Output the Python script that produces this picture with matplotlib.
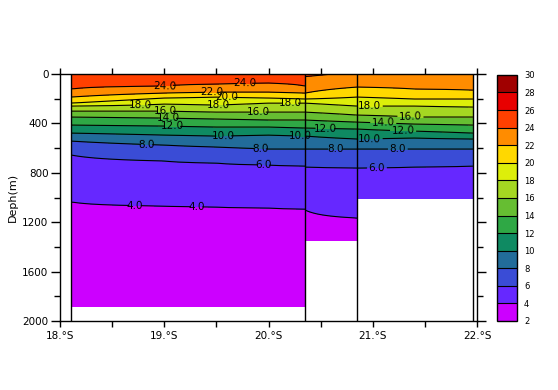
import numpy as np
import matplotlib
matplotlib.use("Agg")
import matplotlib.pyplot as plt
from matplotlib.colors import ListedColormap, BoundaryNorm
from matplotlib.cm import ScalarMappable
from matplotlib.ticker import MultipleLocator

# colour levels (deg C) and fill colours
levels = np.arange(2, 32, 2)
fill_colors = ["#cc00ff", "#6628ff", "#3a4cd6", "#226c9a", "#0f8a62", "#2fa845",
               "#66be32", "#a5d722", "#ddee0a", "#ffd800", "#ff8c00", "#ff4000",
               "#e80000", "#a00000"]

# isotherms (depth in m of each isotherm at each station)
iso_temps = [24, 22, 20, 18, 16, 14, 12, 10, 8, 6, 4]

# segment 1: 18.1S - 20.35S, bottom 1884 m
lat_seg1 = [18.11, 19.0, 19.5, 20.0, 20.35]
surf_seg1 = [25.0, 25.0, 25.0, 25.0, 25.0]
iso_seg1 = [
    [121, 186, 235, 259, 300, 348, 413, 478, 543, 656, 1036],
    [97, 154, 194, 243, 300, 356, 421, 494, 575, 704, 1069],
    [81, 146, 186, 251, 308, 364, 429, 502, 591, 721, 1077],
    [73, 146, 194, 235, 308, 372, 429, 494, 607, 737, 1085],
    [97, 154, 202, 235, 308, 372, 437, 502, 607, 745, 1093],
]
bottom_seg1 = 1884

# segment 2: 20.35S - 20.85S, bottom 1350 m
lat_seg2 = [20.35, 20.85]
surf_seg2 = [24.4, 23.6]
iso_seg2 = [
    [20, 154, 202, 235, 308, 372, 437, 502, 607, 753, 1101],
    [np.nan, 105, 186, 259, 332, 389, 445, 526, 607, 761, 1166],
]
bottom_seg2 = 1350

# segment 3: 20.85S - 21.96S, bottom 1010 m
lat_seg3 = [20.85, 21.4, 21.96]
surf_seg3 = [23.6, 23.5, 23.5]
iso_seg3 = [
    [np.nan, 105, 186, 259, 332, 389, 445, 526, 607, 761, 1166],
    [np.nan, 121, 202, 259, 348, 405, 462, 518, 607, 753, 1182],
    [np.nan, 130, 202, 267, 348, 413, 478, 526, 607, 745, 1182],
]
bottom_seg3 = 1010

deep_temp = 2.6  # temperature at 2000 m

# where the contour labels sit (lat, depth)
label_pos = [
    (19.01, 97), (19.77, 73), (19.46, 146), (19.60, 186),
    (18.77, 265), (19.52, 251), (20.21, 232), (20.97, 265),
    (19.01, 310), (19.90, 313), (21.36, 359),
    (19.04, 367), (21.10, 399),
    (19.08, 427), (20.54, 448), (21.29, 467),
    (19.57, 502), (20.30, 516), (20.97, 529),
    (18.83, 575), (19.92, 610), (20.64, 610), (21.24, 610),
    (19.95, 745), (21.04, 769),
    (18.72, 1066), (19.31, 1074),
]

xticks = [18, 19, 20, 21, 22]
xticklabels = ["18.°S", "19.°S", "20.°S", "21.°S", "22.°S"]
yticks = [0, 400, 800, 1200, 1600, 2000]

cmap = ListedColormap(fill_colors)
norm = BoundaryNorm(levels, cmap.N)

fig = plt.figure(figsize=(5.58, 3.90), dpi=100)
ax = fig.add_axes([0.1075, 0.177, 0.7475, 0.633])

segments = [
    (lat_seg1, surf_seg1, iso_seg1, bottom_seg1),
    (lat_seg2, surf_seg2, iso_seg2, bottom_seg2),
    (lat_seg3, surf_seg3, iso_seg3, bottom_seg3),
]

for lats, surf, isos, bottom in segments:
    depth = np.linspace(0, bottom, 400)
    cols = []
    for t0, d in zip(surf, isos):
        d = np.array(d, dtype=float)
        ok = ~np.isnan(d)
        zp = np.concatenate([[0], d[ok], [2000]])
        tp = np.concatenate([[t0], np.array(iso_temps)[ok], [deep_temp]])
        cols.append(np.interp(depth, zp, tp))
    Z = np.array(cols).T
    ax.contourf(lats, depth, Z, levels=levels, cmap=cmap, norm=norm)
    lines = ax.contour(lats, depth, Z, levels=levels, colors="k", linewidths=0.8)
    pos = [p for p in label_pos if lats[0] <= p[0] <= lats[-1]]
    if pos:
        ax.clabel(lines, manual=pos, fmt="%.1f", fontsize=7.5, inline=True,
                  inline_spacing=2)

# station boundary lines
for x in [lat_seg1[0], lat_seg2[0], lat_seg3[0], lat_seg3[-1]]:
    ax.axvline(x, color="k", lw=1)

ax.set_xlim(18, 22)
ax.set_ylim(2000, 0)
ax.set_xticks(xticks)
ax.set_xticklabels(xticklabels, fontsize=7.5)
ax.set_yticks(yticks)
ax.set_yticklabels([str(v) for v in yticks], fontsize=7.5)
ax.xaxis.set_minor_locator(MultipleLocator(0.5))
ax.yaxis.set_minor_locator(MultipleLocator(200))
ax.tick_params(axis="x", which="both", direction="out", length=4, width=1,
               top=True, pad=3)
ax.tick_params(axis="y", which="major", direction="out", length=6.3, width=1,
               right=True, pad=2)
ax.tick_params(axis="y", which="minor", direction="out", length=4.3, width=1,
               right=True)
for s in ax.spines.values():
    s.set_linewidth(1)
ax.set_ylabel("Deph(m)", fontsize=8)
ax.yaxis.set_label_coords(-0.102, 0.5)

cax = fig.add_axes([0.8907, 0.177, 0.0358, 0.631])
cb = fig.colorbar(ScalarMappable(norm=norm, cmap=cmap), cax=cax, ticks=levels,
                  drawedges=True)
cb.outline.set_linewidth(1)
cb.dividers.set_linewidth(0.8)
cb.ax.tick_params(length=0, labelsize=6, pad=5)

fig.savefig("out.png", dpi=100)
